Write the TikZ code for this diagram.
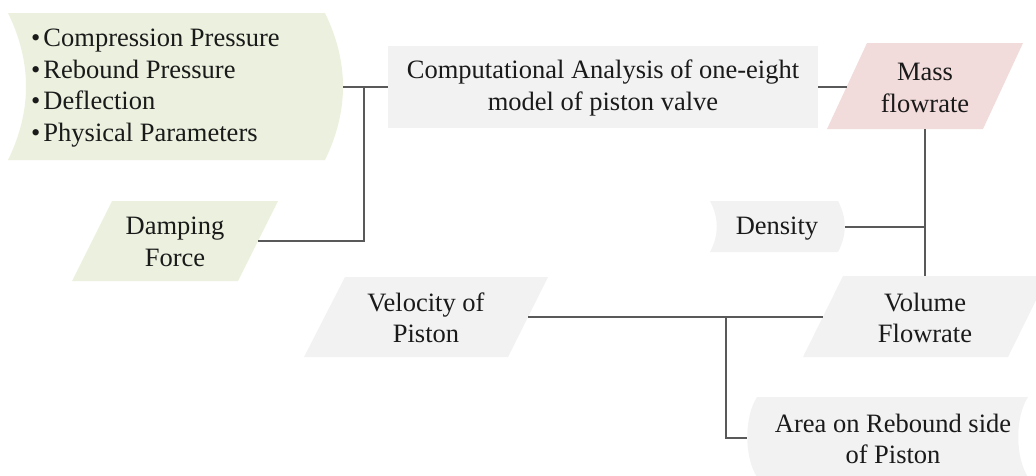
\documentclass[tikz,border=0pt]{standalone}
\usepackage{fontspec}
\setmainfont{Liberation Serif}
\definecolor{greenfill}{HTML}{EBF1DE}
\definecolor{grayfill}{HTML}{F2F2F2}
\definecolor{pinkfill}{HTML}{F2DCDB}
\definecolor{linecol}{HTML}{595959}
\definecolor{txtcol}{HTML}{1A1A1A}
\begin{document}
\begin{tikzpicture}[x=1pt,y=-1pt,
  lbl/.style={align=center,inner sep=0pt,text=txtcol,font=\fontsize{26.5}{31.5}\selectfont},
  conn/.style={draw=linecol,line width=1.5pt}]
\useasboundingbox (0,0) rectangle (1036,475);
\clip (0,0) rectangle (1036,475);
% shapes
\fill[greenfill] (8,13) -- (325,13) .. controls (349,62) and (349,111) .. (325,160) -- (8,160) .. controls (32,111) and (32,62) .. (8,13) -- cycle;
\fill[grayfill] (388,46) rectangle (818,128);
\fill[pinkfill] (867,43) -- (1023,43) -- (983,129) -- (827,129) -- cycle;
\fill[greenfill] (112,201) -- (278,201) -- (238,281) -- (72,281) -- cycle;
\fill[grayfill] (710,201) -- (838,201) .. controls (847,218) and (847,235) .. (838,252) -- (710,252) .. controls (719,235) and (719,218) .. (710,201) -- cycle;
\fill[grayfill] (345,277) -- (548,277) -- (508,357) -- (304,357) -- cycle;
\fill[grayfill] (843,276) -- (1048,276) -- (1008,357) -- (803,357) -- cycle;
\fill[grayfill] (757,397) -- (1028,397) .. controls (1015,417) and (1015,457) .. (1028,477) -- (757,477) .. controls (744,457) and (744,417) .. (757,397) -- cycle;
% text nodes
\node[lbl,align=left,anchor=west] (params) at (31,88) {\textbullet\hspace{3pt}Compression Pressure\\ \textbullet\hspace{3pt}Rebound Pressure\\ \textbullet\hspace{3pt}Deflection\\ \textbullet\hspace{3pt}Physical Parameters};
\node[lbl] (comp) at (603,88) {Computational Analysis of one-eight\\model of piston valve};
\node[lbl] (mass) at (925,88) {Mass\\flowrate};
\node[lbl] (damp) at (175,242) {Damping\\Force};
\node[lbl] (dens) at (777,229) {Density};
\node[lbl] (vel) at (426,318) {Velocity of\\Piston};
\node[lbl] (vol) at (925,318) {Volume\\Flowrate};
\node[lbl] (area) at (893,439) {Area on Rebound side\\of Piston};
% attach points
\coordinate (paramsR) at (343,87);
\coordinate (compL) at (388,87);
\coordinate (compR) at (818,87);
\coordinate (massL) at (847,87);
\coordinate (massB) at (925,129);
\coordinate (volT) at (925,276);
\coordinate (volL) at (823,317);
\coordinate (dampR) at (258,241);
\coordinate (j1) at (364,87);
\coordinate (densR) at (845,227);
\coordinate (j2) at (925,227);
\coordinate (velR) at (528,317);
\coordinate (j3) at (726,317);
\coordinate (areaL) at (747,438);
% connectors
\draw[conn] (paramsR) -- (compL);
\draw[conn] (j1) |- (dampR);
\draw[conn] (compR) -- (massL);
\draw[conn] (massB) -- (volT);
\draw[conn] (densR) -- (j2);
\draw[conn] (velR) -- (volL);
\draw[conn] (j3) |- (areaL);
\end{tikzpicture}
\end{document}
